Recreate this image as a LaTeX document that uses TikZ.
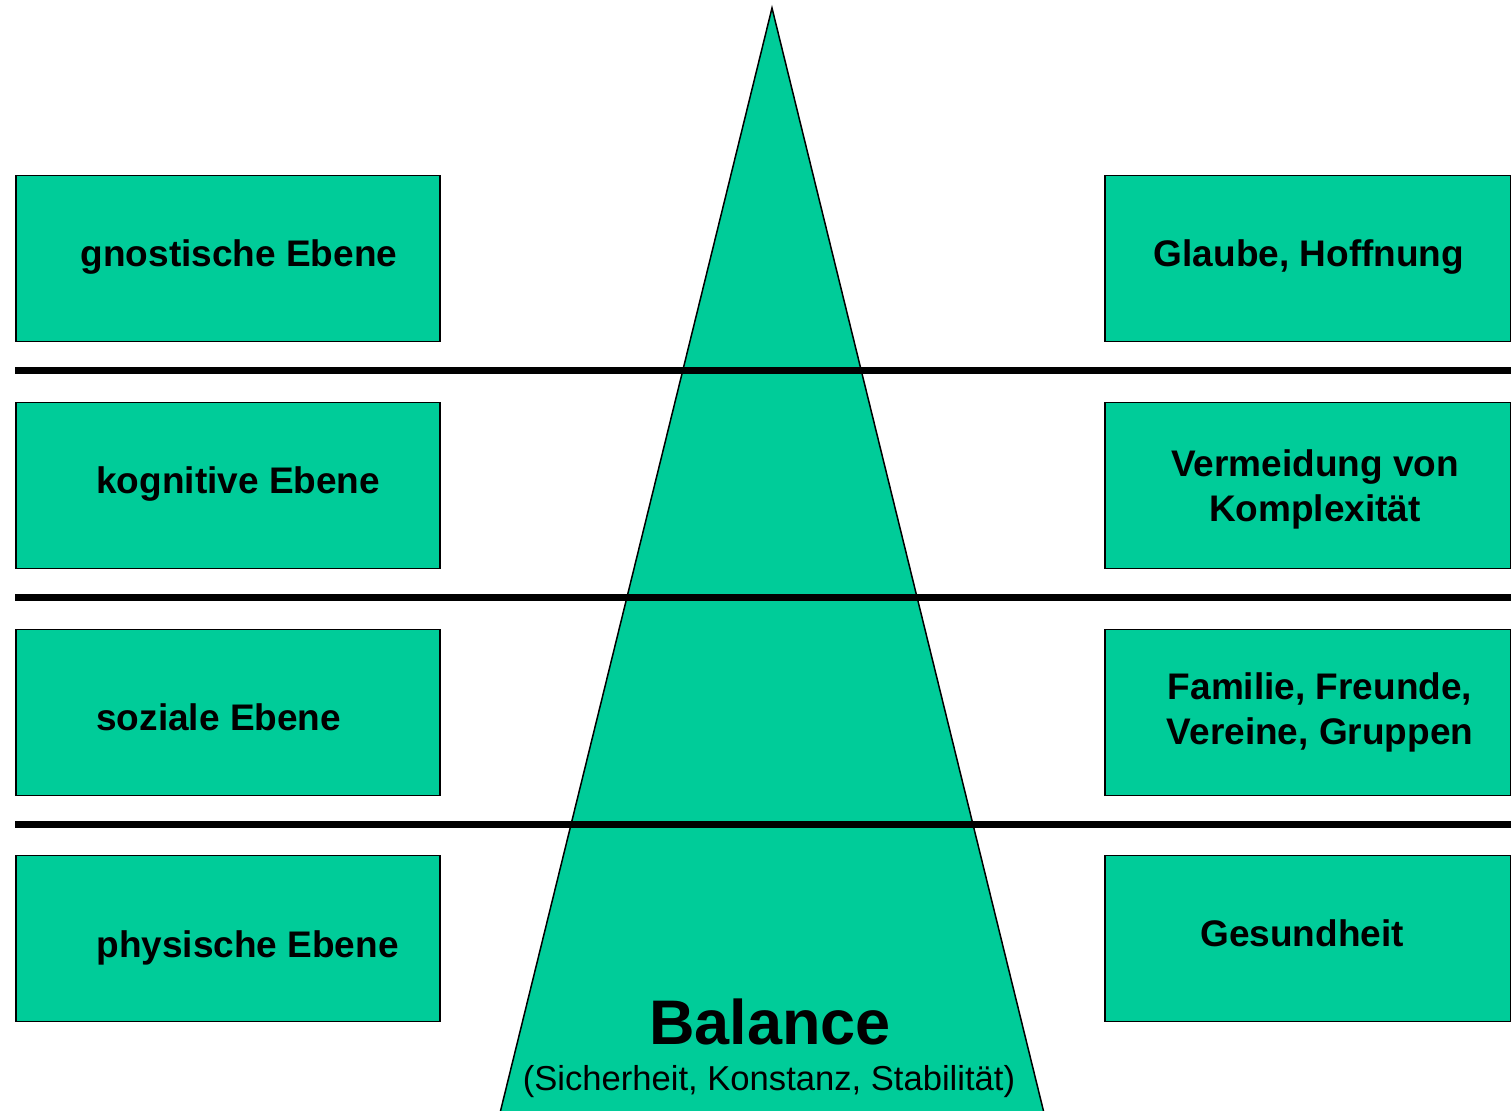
\documentclass[tikz,border=0pt]{standalone}
\usepackage{fontspec}
\setmainfont{Liberation Sans}
\definecolor{boxgreen}{HTML}{00CC99}
\begin{document}
\begin{tikzpicture}[x=0.5pt,y=-0.5pt,
  levelbox/.style={draw=black, line width=0.75pt, fill=boxgreen, minimum height=83pt, anchor=north west, inner sep=0pt},
  leftbox/.style={levelbox, minimum width=212pt},
  rightbox/.style={levelbox, minimum width=203pt},
  sepline/.style={line width=3.5pt, black},
  boxtext/.style={font=\bfseries\fontsize{18.5}{22.5}\selectfont, align=center, inner sep=0pt},
]
\useasboundingbox (0,0) rectangle (1511,1111);
% pyramid
\filldraw[fill=boxgreen, draw=black, line width=0.75pt] (772,8) coordinate (apex) -- (500,1113) coordinate (bl) -- (1044,1113) coordinate (br) -- cycle;
% left boxes
\node[leftbox] (L1) at (15,175) {};
\node[leftbox] (L2) at (15,402) {};
\node[leftbox] (L3) at (15,629) {};
\node[leftbox] (L4) at (15,855) {};
% right boxes
\node[rightbox] (R1) at (1104,175) {};
\node[rightbox] (R2) at (1104,402) {};
\node[rightbox] (R3) at (1104,629) {};
\node[rightbox] (R4) at (1104,855) {};
% separator lines
\coordinate (s1a) at (15,371); \coordinate (s1b) at (1511,371);
\coordinate (s2a) at (15,598); \coordinate (s2b) at (1511,598);
\coordinate (s3a) at (15,825); \coordinate (s3b) at (1511,825);
\draw[sepline] (s1a) -- (s1b);
\draw[sepline] (s2a) -- (s2b);
\draw[sepline] (s3a) -- (s3b);
% left texts
\node[boxtext] (tL1) at (239,257) {gnostische Ebene};
\node[boxtext, anchor=west] (tL2) at (96,484) {kognitive Ebene};
\node[boxtext, anchor=west] (tL3) at (96,717) {soziale Ebene};
\node[boxtext, anchor=west] (tL4) at (96,948) {physische Ebene};
% right texts
\node[boxtext] (tR1) at (1309,257) {Glaube, Hoffnung};
\node[boxtext] (tR2) at (1315,489) {Vermeidung von\\Komplexität};
\node[boxtext] (tR3) at (1320,712) {Familie, Freunde,\\Vereine, Gruppen};
\node[boxtext] (tR4) at (1302,933) {Gesundheit};
% balance
\node[font=\bfseries\fontsize{31.5}{36}\selectfont, inner sep=0pt] (bal) at (770,1022) {Balance};
\node[font=\fontsize{17.3}{20}\selectfont, inner sep=0pt] (sub) at (769,1082) {(Sicherheit, Konstanz, Stabilität)};
\end{tikzpicture}
\end{document}
